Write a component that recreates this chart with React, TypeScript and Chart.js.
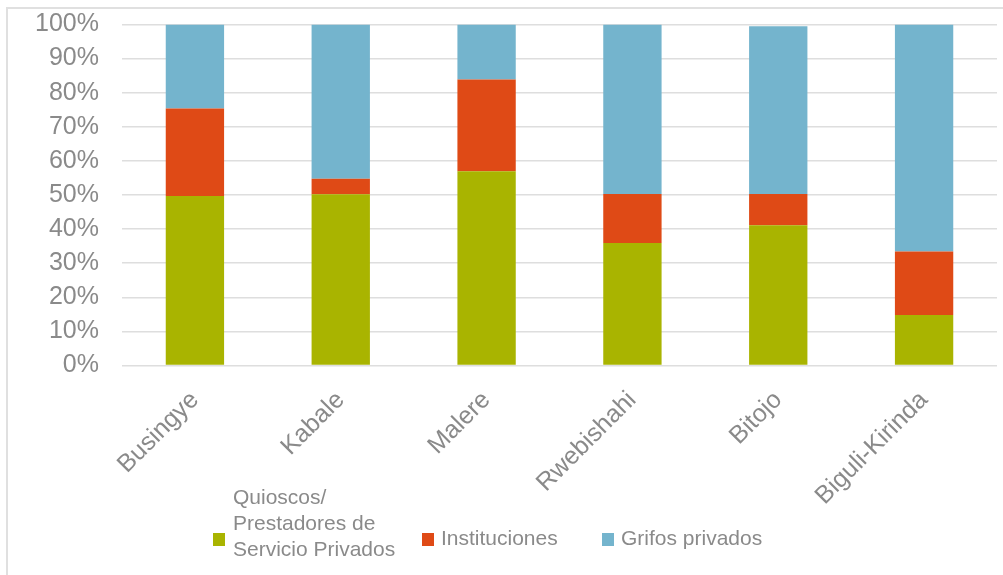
import React, { useEffect, useRef } from "react";
import { Chart, registerables } from "chart.js";

Chart.register(...registerables);

const categories = ["Busingye", "Kabale", "Malere", "Rwebishahi", "Bitojo", "Biguli-Kirinda"];
const quioscos = [49.7, 50.2, 57.0, 35.9, 41.1, 14.8];
const instituciones = [25.7, 4.6, 26.9, 14.4, 9.2, 18.6];
const grifos = [24.6, 45.2, 16.1, 49.7, 49.2, 66.6];
const seriesNames = ["Quioscos/ Prestadores de Servicio Privados", "Instituciones", "Grifos privados"];
const legendLines = [["Quioscos/", "Prestadores de", "Servicio Privados"], ["Instituciones"], ["Grifos privados"]];
const yTicks = [0, 10, 20, 30, 40, 50, 60, 70, 80, 90, 100];

const GREEN = "#a9b400";
const RED = "#df4a16";
const BLUE = "#74b4cd";
const TEXT = "#8a8a8a";
const FONT = "'Liberation Sans', Arial, sans-serif";

const legendPlugin = {
  id: "customLegend",
  afterDraw(chart: any) {
    const ctx = chart.ctx;
    const boxX = [213, 422, 602];
    const boxY = 533;
    ctx.save();
    ctx.font = `21px ${FONT}`;
    ctx.textBaseline = "alphabetic";
    ctx.textAlign = "left";
    chart.data.datasets.forEach((ds: any, i: number) => {
      ctx.fillStyle = ds.backgroundColor;
      ctx.fillRect(boxX[i], boxY, 12, 13);
      ctx.fillStyle = TEXT;
      const lines = legendLines[i];
      if (lines.length === 1) {
        ctx.fillText(lines[0], boxX[i] + 19, 545);
      } else {
        lines.forEach((l: string, j: number) => {
          ctx.fillText(l, boxX[i] + 20, 504 + j * 26);
        });
      }
    });
    ctx.restore();
  },
};

export default function App() {
  const ref = useRef<HTMLCanvasElement | null>(null);
  useEffect(() => {
    if (!ref.current) return;
    const chart = new Chart(ref.current, {
      type: "bar",
      data: {
        labels: categories,
        datasets: [
          { label: seriesNames[0], data: quioscos, backgroundColor: GREEN },
          { label: seriesNames[1], data: instituciones, backgroundColor: RED },
          { label: seriesNames[2], data: grifos, backgroundColor: BLUE },
        ],
      },
      options: {
        responsive: false,
        animation: false,
        layout: { padding: { left: 0, right: 6, top: 24.5, bottom: 0 } },
        datasets: { bar: { categoryPercentage: 1, barPercentage: 0.4 } } as any,
        plugins: { legend: { display: false }, tooltip: { enabled: false }, title: { display: false } },
        scales: {
          x: {
            stacked: true,
            grid: { display: false },
            border: { display: false },
            ticks: {
              color: TEXT,
              font: { family: FONT, size: 25 },
              minRotation: 45,
              maxRotation: 45,
              padding: 12,
              autoSkip: false,
            },
            afterFit(scale: any) {
              scale.height = 209.5;
              scale.paddingLeft = 0;
              scale.paddingRight = 0;
            },
          },
          y: {
            stacked: true,
            min: 0,
            max: 100,
            afterBuildTicks(scale: any) {
              scale.ticks = yTicks.map((v) => ({ value: v }));
            },
            grid: { color: "#dedede", lineWidth: 1.5, drawTicks: false },
            border: { display: false },
            ticks: {
              color: TEXT,
              font: { family: FONT, size: 25 },
              padding: 23,
              autoSkip: false,
              callback: (v: any) => `${v}%`,
            },
            afterFit(scale: any) {
              scale.width = 122;
              scale.paddingTop = 0;
              scale.paddingBottom = 0;
            },
          },
        },
      },
      plugins: [legendPlugin],
    });
    return () => chart.destroy();
  }, []);
  return (
    <>
      <div
        style={{
          position: "fixed",
          left: 6,
          top: 7,
          width: 1000,
          height: 570,
          borderLeft: "2px solid #e0e0e0",
          borderTop: "2px solid #e0e0e0",
          boxSizing: "border-box",
        }}
      />
      <canvas
        ref={ref}
        width={1003}
        height={575}
        style={{ position: "fixed", left: 0, top: 0, width: 1003, height: 575 }}
      />
    </>
  );
}
